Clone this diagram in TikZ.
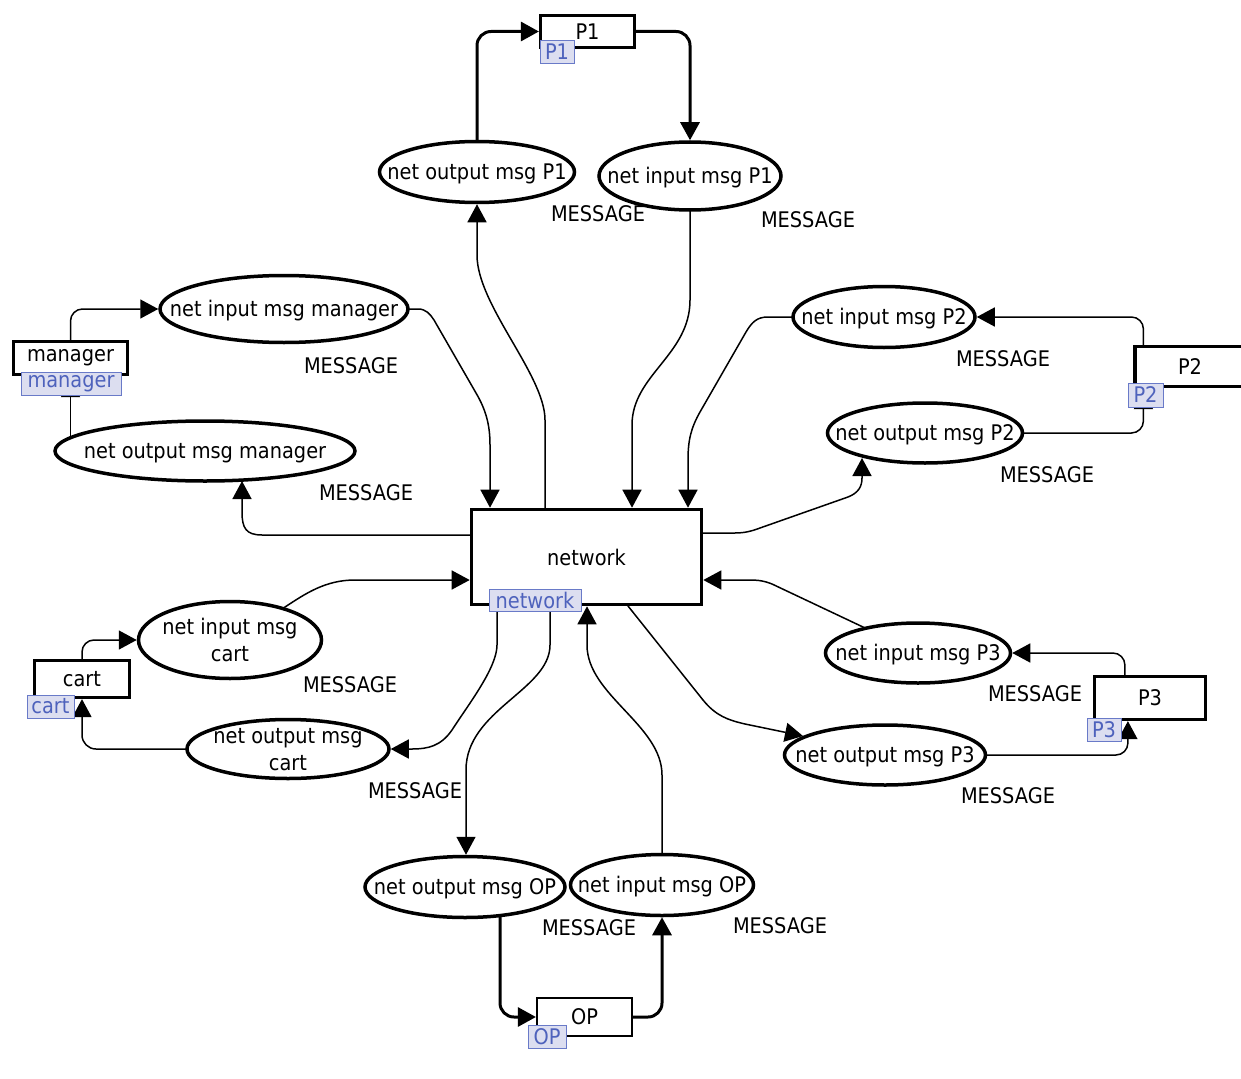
\documentclass[tikz,border=0pt]{standalone}
\usepackage{fontspec}
\setmainfont{DejaVu Sans}[FakeStretch=0.9]
\usetikzlibrary{shapes.geometric,arrows.meta,backgrounds}
\definecolor{tagfill}{RGB}{220,222,240}
\definecolor{tagdraw}{RGB}{105,122,200}
\definecolor{tagtext}{RGB}{78,98,188}
\tikzset{
  place/.style={ellipse, draw, line width=3.5pt, fill=white, inner sep=0pt},
  trans/.style={rectangle, draw, line width=3.2pt, fill=white, inner sep=0pt},
  tagbox/.style={rectangle, draw=tagdraw, fill=tagfill, text=tagtext, line width=0.9pt, inner sep=0pt},
  lbl/.style={inner sep=0pt, align=center},
  arc/.style={line width=1.5pt, -{Triangle[length=18pt,width=19pt]}},
  thickarc/.style={line width=3pt, rounded corners=14pt, -{Triangle[length=18pt,width=19pt]}}
}
\newcommand{\placenode}[6]{%
  \node[place, minimum width=#3pt, minimum height=#4pt] (#1) at (#2) {};
  \node[lbl] (#1-t) at ([yshift=#6pt]#1.center) {#5};}
\begin{document}
\begin{tikzpicture}[x=1pt,y=-1pt,font=\fontsize{21.5}{27}\selectfont]
\useasboundingbox (0,0) rectangle (1241,1078);

% places
\placenode{oP1}{477,172}{195}{61}{net output msg P1}{-2}
\placenode{iP1}{690,176}{182}{68}{net input msg P1}{-2}
\placenode{iMgr}{284,309}{248}{67}{net input msg manager}{-2}
\placenode{oMgr}{205,451}{300}{60}{net output msg manager}{-2}
\placenode{iP2}{884,317}{182}{61}{net input msg P2}{-2}
\placenode{oP2}{925,433}{195}{60}{net output msg P2}{-2}
\placenode{iP3}{918,653}{185}{60}{net input msg P3}{-2}
\placenode{oP3}{885,755}{201}{60}{net output msg P3}{-2}
\placenode{iCart}{230,640}{183}{77}{net input msg\\cart}{0}
\placenode{oCart}{288,749}{202}{59}{net output msg\\cart}{-1}
\placenode{oOP}{465,887}{200}{61}{net output msg OP}{-2}
\placenode{iOP}{662,885}{183}{61}{net input msg OP}{-2}

% transitions
\node[trans, minimum width=94pt, minimum height=32pt] (P1) at (587.5,31.5) {P1};
\node[trans, minimum width=114pt, minimum height=33pt] (mgr) at (70.5,358) {manager};
\node[trans, line width=3.6pt, minimum width=230pt, minimum height=95pt] (net) at (586.5,557) {network};
\node[trans, minimum width=110pt, minimum height=40pt] (P2) at (1190,366.5) {P2};
\node[trans, minimum width=111pt, minimum height=43pt] (P3) at (1150,698) {P3};
\node[trans, minimum width=95pt, minimum height=37pt] (cart) at (82,679) {cart};
\node[trans, line width=2.2pt, minimum width=95pt, minimum height=38pt] (OP) at (584.5,1017) {OP};

% type labels
\node[lbl] (mP1o) at (598,214) {MESSAGE};
\node[lbl] (mP1i) at (808,220) {MESSAGE};
\node[lbl] (mMgri) at (351,366) {MESSAGE};
\node[lbl] (mMgro) at (366,493) {MESSAGE};
\node[lbl] (mP2i) at (1003,359) {MESSAGE};
\node[lbl] (mP2o) at (1047,475) {MESSAGE};
\node[lbl] (mP3i) at (1035,694) {MESSAGE};
\node[lbl] (mP3o) at (1008,796) {MESSAGE};
\node[lbl] (mCarti) at (350,685) {MESSAGE};
\node[lbl] (mCarto) at (415,791) {MESSAGE};
\node[lbl] (mOPo) at (589,928) {MESSAGE};
\node[lbl] (mOPi) at (780,926) {MESSAGE};

\begin{pgfonlayer}{background}
% P1
\draw[thickarc] (oP1.center) |- (P1.west);
\draw[thickarc] (P1.center) -| (iP1.north);
\draw[arc] (545,0 |- net.center) -- (545,420) .. controls (545,375) and (477,305) .. (477,255) -- (oP1.south);
\draw[arc] (iP1.center) -- (690,300) .. controls (690,355) and (632,375) .. (632,425) -- (632,0 |- net.north);
% manager
\draw[arc] (iMgr.center) -- (418,309) .. controls (426,309) and (430,314) .. (434,320) -- (476,393) .. controls (486,410) and (490,425) .. (490,445) -- (490,0 |- net.north);
\draw[arc] (net.center |- 0,535) -- (262,535) .. controls (246,535) and (242,528) .. (242,512) -- (242,481);
\draw[arc, rounded corners=12pt] (mgr.center) |- (iMgr.west);
\draw[arc] (oMgr.center -| mgr.south) -- ([yshift=-3pt]mgr.south);
% P2
\draw[arc] (iP2.center) -- (768,317) .. controls (757,317) and (752,322) .. (746,332) -- (700,412) .. controls (691,428) and (688,440) .. (688,460) -- (688,0 |- net.north);
\draw[arc, rounded corners=12pt] ([xshift=10pt]P2.west) |- (iP2.east);
\draw[arc, rounded corners=12pt] (oP2.center) -| ([xshift=10pt,yshift=-3pt]P2.south west);
\draw[arc] (net.center |- 0,533) -- (735,533) .. controls (745,533) and (752,531) .. (760,528) -- (848,497) .. controls (858,493) and (862,487) .. (862,478) -- (862,458);
% P3
\draw[arc] (iP3.center) -- (772,584) .. controls (762,580) and (756,580) .. (745,580) -- (net.east |- 0,580);
\draw[arc, rounded corners=12pt] ([xshift=32pt]P3.west) |- (iP3.east);
\draw[arc, rounded corners=12pt] (oP3.center) -| ([xshift=35pt]P3.south west);
\draw[arc] (628,0 |- net.center) -- (628,606) -- (703,700) .. controls (716,716) and (728,720) .. (745,724) -- (803,736);
% cart
\draw[arc] (iCart.center) -- (285,607) .. controls (305,594) and (325,580) .. (355,580) -- (net.west |- 0,580);
\draw[arc, rounded corners=12pt] (cart.center) |- (iCart.west);
\draw[arc, rounded corners=14pt] (oCart.center) -| (cart.south);
\draw[arc] (497,0 |- net.center) -- (497,645) .. controls (497,668) and (468,705) .. (452,730) .. controls (441,746) and (428,749) .. (412,749) -- (oCart.east);
% OP
\draw[arc] (550,0 |- net.center) -- (550,645) .. controls (550,690) and (466,710) .. (466,770) -- (466,0 |- oOP.north);
\draw[arc] (iOP.center) -- (662,775) .. controls (662,725) and (587,695) .. (587,645) -- (587,0 |- net.south);
\draw[thickarc] ([xshift=35pt]oOP.center) |- (OP.west);
\draw[thickarc] (OP.center) -| (iOP.south);
\end{pgfonlayer}

% tags
\node[tagbox, minimum width=34pt, minimum height=23pt] (tP1) at (557,51.5) {P1};
\node[tagbox, minimum width=100pt, minimum height=23pt] (tMgr) at (71,383.5) {manager};
\node[tagbox, minimum width=92pt, minimum height=22pt] (tNet) at (535,600) {network};
\node[tagbox, minimum width=35pt, minimum height=24pt] (tP2) at (1145.5,395) {P2};
\node[tagbox, minimum width=34pt, minimum height=23pt] (tP3) at (1104,729.5) {P3};
\node[tagbox, minimum width=47pt, minimum height=23pt] (tCart) at (50.5,706.5) {cart};
\node[tagbox, minimum width=38pt, minimum height=23pt] (tOP) at (547,1036.5) {OP};
\end{tikzpicture}
\end{document}
